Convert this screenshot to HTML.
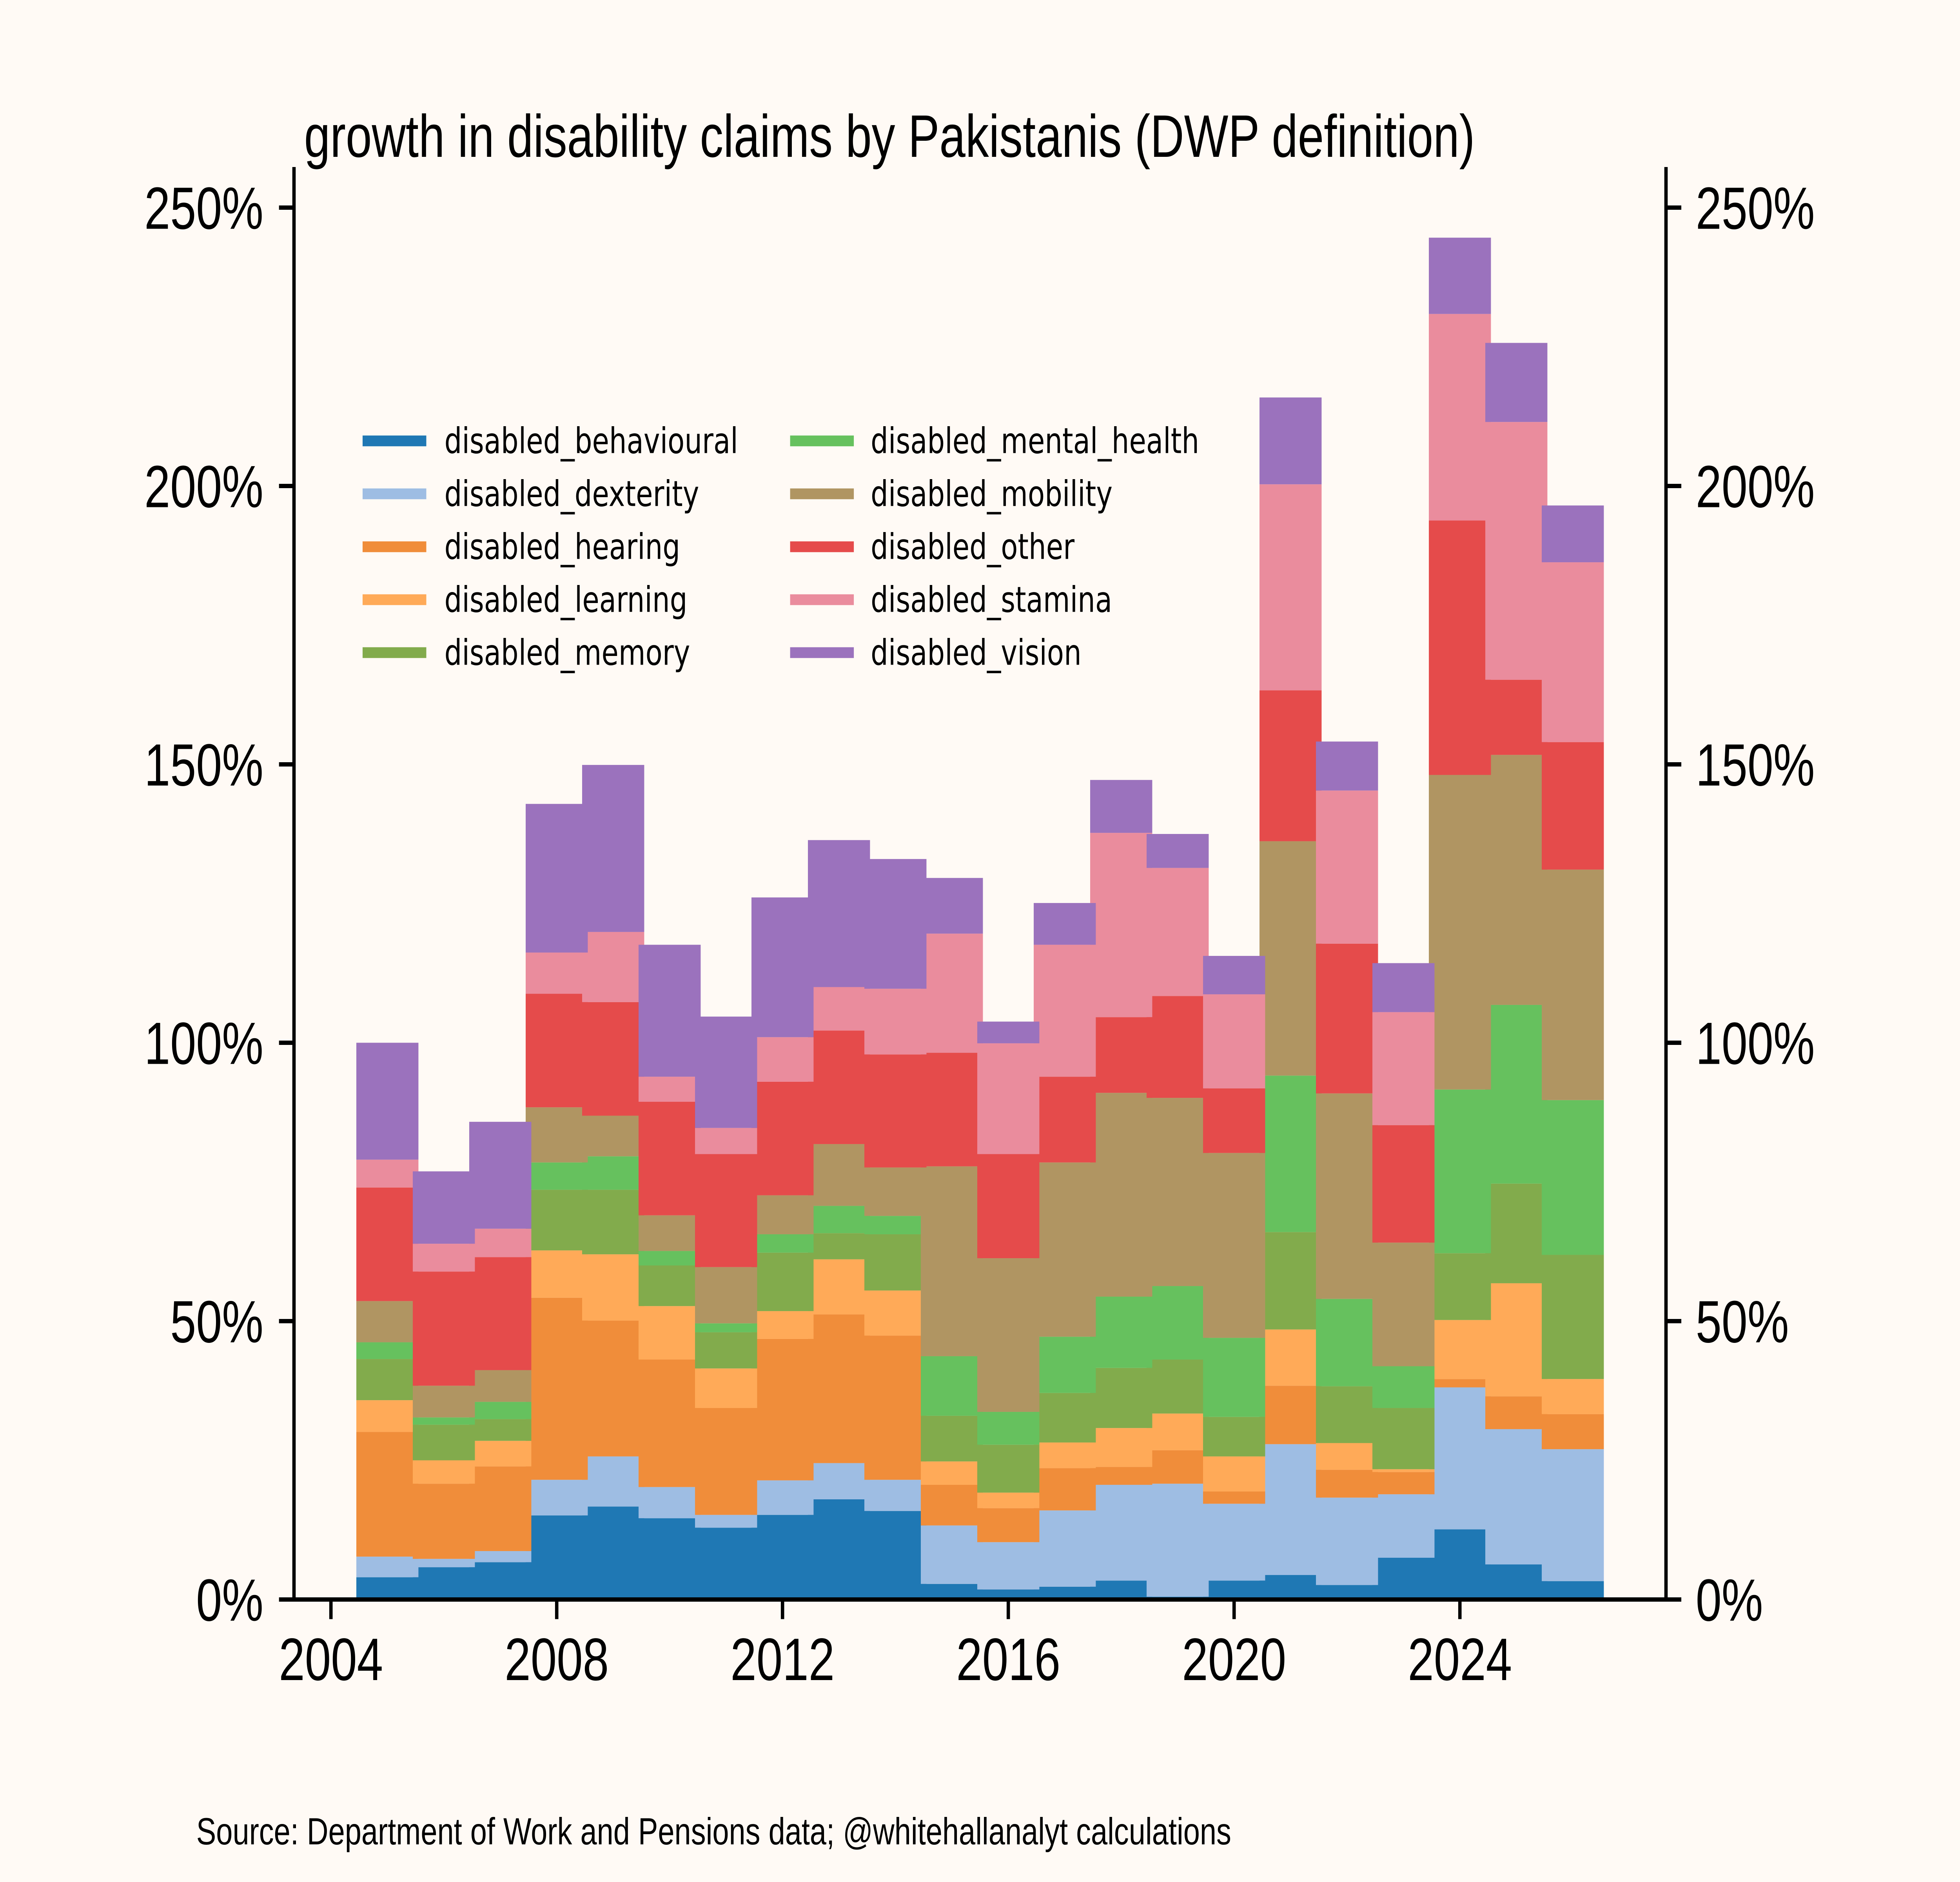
<!DOCTYPE html>
<html lang="en">
<head>
<meta charset="utf-8">
<title>growth in disability claims by Pakistanis (DWP definition)</title>
<style>
html,body{margin:0;padding:0;background:#fffaf5;overflow:hidden;width:100%;height:100%;}
svg{display:block;width:100vw;height:100vh;}
text{font-family:"Liberation Sans",Arial,sans-serif;fill:#000;}
.legend-text{font-family:"DejaVu Sans",sans-serif;font-size:90.3px;}
</style>
</head>
<body>
<svg id="chart" xmlns="http://www.w3.org/2000/svg" viewBox="0 0 6400 4800" preserveAspectRatio="none">
  <rect x="0" y="0" width="6400" height="4800" fill="#fffaf5"/>
  <g id="bars"></g>
  <g id="axes"></g>
  <g id="legend"></g>
  <text x="993" y="400" font-size="153">growth in disability claims by Pakistanis (DWP definition)</text>
  <text x="641" y="4704" font-size="97">Source: Department of Work and Pensions data; @whitehallanalyt calculations</text>
</svg>
<script>
const years = [2005,2006,2007,2008,2009,2010,2011,2012,2013,2014,2015,2016,2017,2018,2019,2020,2021,2022,2023,2024,2025,2026];
const seriesNames = ["disabled_behavioural","disabled_dexterity","disabled_hearing","disabled_learning","disabled_memory","disabled_mental_health","disabled_mobility","disabled_other","disabled_stamina","disabled_vision"];
const seriesColors = ["#1f78b4","#9ebde3","#f08d3a","#ffaa58","#82ab4c","#66c15e","#b09562","#e54b4b","#ea8c9d","#9b72bd"];
const behavioural = [4.0,5.8,6.7,15.1,16.7,14.6,12.9,15.2,18.0,15.9,2.8,1.8,2.3,3.4,0.5,3.4,4.4,2.6,7.5,12.6,6.3,3.3];
const dexterity = [3.7,1.5,2.0,6.4,9.0,5.6,2.3,6.2,6.5,5.6,10.5,8.5,13.7,17.2,20.3,13.8,23.5,15.7,11.4,25.5,24.3,23.7];
const hearing = [22.4,13.5,15.2,32.7,24.4,22.9,19.2,25.4,26.7,25.9,7.3,6.1,7.6,3.2,6.0,2.2,10.5,5.0,4.0,1.5,5.9,6.3];
const learning = [5.7,4.2,4.6,8.5,11.9,9.6,7.1,5.0,9.9,8.1,4.2,2.8,4.6,7.0,6.6,6.3,10.1,4.8,0.5,10.6,20.3,6.3];
const memory = [7.4,6.4,3.9,10.9,11.6,7.3,6.5,10.5,4.7,10.1,8.2,8.6,8.9,10.8,9.7,7.1,17.5,10.2,11.0,12.0,17.9,22.3];
const mentalHealth = [3.0,1.3,3.1,4.9,6.0,2.6,1.6,3.3,4.9,3.3,10.7,5.9,10.1,12.8,13.2,14.2,28.1,15.7,7.5,29.4,32.1,27.8];
const mobility = [7.4,5.7,5.7,9.9,7.3,6.4,10.1,7.0,11.1,8.7,34.1,27.6,31.3,36.6,33.8,33.2,42.1,36.9,22.2,56.5,44.9,41.4];
const other = [20.4,20.5,20.3,20.4,20.4,20.4,20.3,20.4,20.4,20.3,20.4,18.7,15.4,13.6,18.3,11.6,27.1,26.9,21.1,45.7,13.5,22.9];
const stamina = [5.0,5.0,5.1,7.4,12.6,4.5,4.7,8.0,7.8,11.8,21.4,19.9,23.7,33.1,23.0,16.9,37.0,27.5,20.3,37.1,46.3,32.3];
const vision = [21.0,13.0,19.2,26.7,30.0,23.7,20.0,25.1,26.4,23.3,10.0,3.9,7.5,9.5,6.1,6.9,15.6,8.8,8.8,13.7,14.2,10.2];
const seriesValues = [behavioural,dexterity,hearing,learning,memory,mentalHealth,mobility,other,stamina,vision];
const xTickLabels = [2004,2008,2012,2016,2020,2024];
const yTickLabels = [0,50,100,150,200,250];

const NS = "http://www.w3.org/2000/svg";
const xScale = year => 1080.6 + (year - 2004) * 184.32;
const yScale = pct => 4079.5 - pct * 14.2;
const barWidthYears = 1.1;

function make(tag, attrs, parent) {
  const el = document.createElementNS(NS, tag);
  for (const k in attrs) el.setAttribute(k, attrs[k]);
  parent.appendChild(el);
  return el;
}

const barsGroup = document.getElementById("bars");
const running = years.map(() => 0);
seriesValues.forEach((values, s) => {
  values.forEach((v, i) => {
    const base = running[i];
    const top = base + v;
    running[i] = top;
    const r = make("rect", {
      x: xScale(years[i] - barWidthYears / 2),
      y: yScale(top),
      width: xScale(years[i] + barWidthYears / 2) - xScale(years[i] - barWidthYears / 2),
      height: yScale(base) - yScale(top),
      fill: seriesColors[s]
    }, barsGroup);
    
    
  });
});

const axes = document.getElementById("axes");
const black = "#000";
const left = 960, right = 5440, top0 = 426;
const spineW = 11, tickW = 11;

const spineLeft = make("line", {x1:left,x2:left,y1:top0,y2:yScale(0)+5.5,stroke:black,"stroke-width":spineW}, axes);


const spineRight = make("line", {x1:right,x2:right,y1:top0,y2:yScale(0)+5.5,stroke:black,"stroke-width":spineW}, axes);


const spineBottom = make("line", {x1:left,x2:right,y1:yScale(0),y2:yScale(0),stroke:black,"stroke-width":spineW}, axes);



xTickLabels.forEach(year => {
  const x = xScale(year);
  const t = make("line", {x1:x,x2:x,y1:yScale(0)+5,y2:yScale(0)+50,stroke:black,"stroke-width":tickW}, axes);
  
  
  const l = make("text", {x:x,y:4285,"font-size":153,"text-anchor":"middle"}, axes);
  l.textContent = String(year);
  
  
});

yTickLabels.forEach(pct => {
  const y = yScale(pct);
  const tl = make("line", {x1:left-49,x2:left,y1:y,y2:y,stroke:black,"stroke-width":tickW}, axes);
  
  
  const tr = make("line", {x1:right,x2:right+50,y1:y,y2:y,stroke:black,"stroke-width":tickW}, axes);
  
  
  const ll = make("text", {x:860,y:y+54,"font-size":152,"text-anchor":"end"}, axes);
  ll.textContent = pct + "%";
  
  
  const lr = make("text", {x:5537,y:y+54,"font-size":152}, axes);
  lr.textContent = pct + "%";
  
  
});

const legend = document.getElementById("legend");
seriesNames.forEach((name, i) => {
  const col = i < 5 ? 0 : 1;
  const row = i % 5;
  const x0 = col === 0 ? 1184 : 2580;
  const textGap = col === 0 ? 267 : 263;
  const y = 1124.5 + row * 135;
  const ln = make("line", {x1:x0,x2:x0+208,y1:y,y2:y,stroke:seriesColors[i],"stroke-width":27.5}, legend);
  
  
  const tx = make("text", {x:x0+textGap,y:y+31,"class":"legend-text"}, legend);
  tx.textContent = name;
  
  
});
</script>
</body>
</html>
